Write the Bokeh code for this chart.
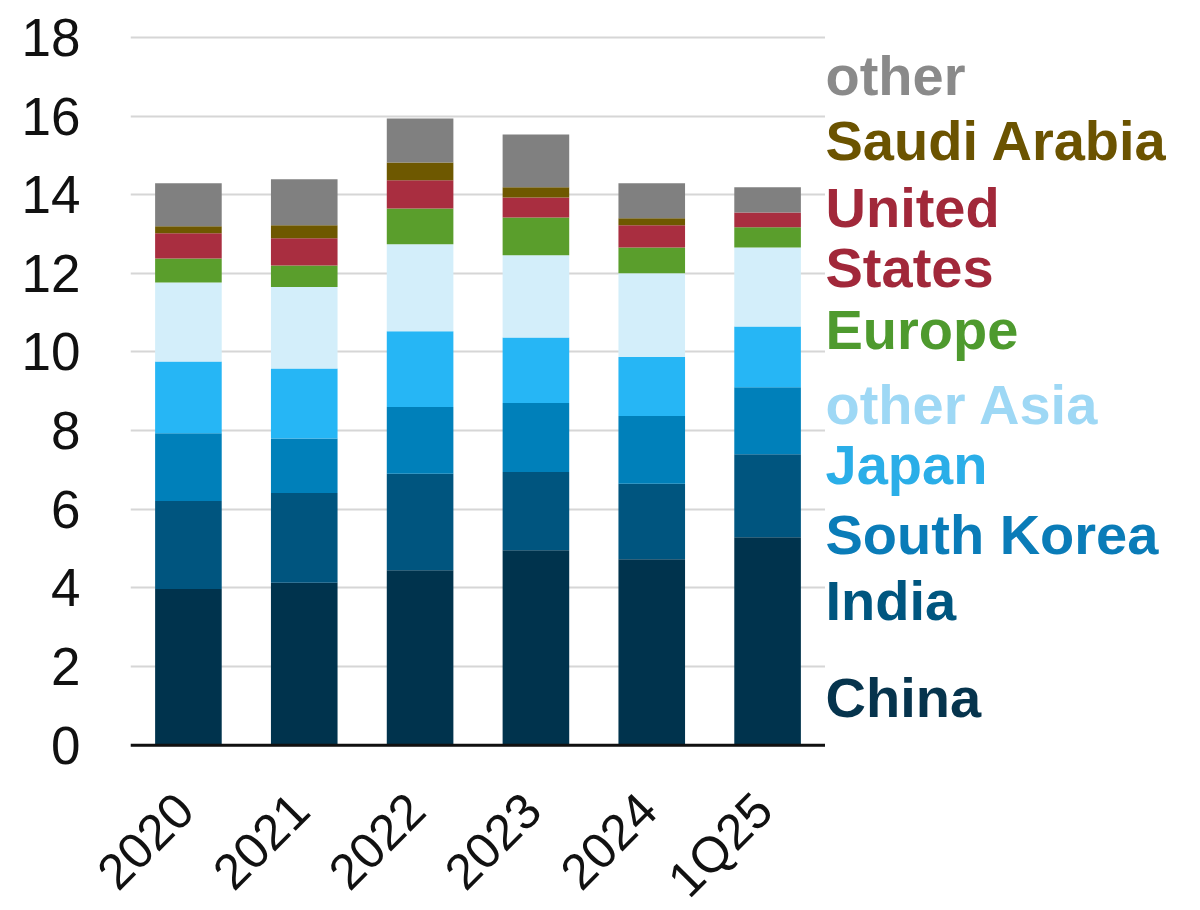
from bokeh.plotting import figure
from bokeh.models import FixedTicker, Range1d, Span
from bokeh.layouts import row, column
from bokeh.core.properties import value
from bokeh.embed import file_html
from bokeh.resources import INLINE
import math

periods = ["2020", "2021", "2022", "2023", "2024", "1Q25"]
series = ["China", "India", "South Korea", "Japan", "other Asia",
          "Europe", "United States", "Saudi Arabia", "other"]

china = [3.97, 4.13, 4.45, 4.96, 4.73, 5.29]
india = [2.24, 2.28, 2.45, 1.99, 1.92, 2.11]
south_korea = [1.72, 1.39, 1.70, 1.75, 1.72, 1.70]
japan = [1.83, 1.78, 1.93, 1.67, 1.50, 1.55]
other_asia = [2.01, 2.07, 2.21, 2.09, 2.13, 2.01]
europe = [0.61, 0.55, 0.91, 0.96, 0.66, 0.51]
united_states = [0.64, 0.69, 0.72, 0.51, 0.56, 0.38]
saudi_arabia = [0.18, 0.33, 0.45, 0.26, 0.18, 0.00]
other = [1.09, 1.17, 1.12, 1.34, 0.89, 0.64]

y_ticks = [0, 2, 4, 6, 8, 10, 12, 14, 16, 18]

fill_colors = ["#00334D", "#00557F", "#0080BA", "#26B6F5", "#D3EEFA",
               "#5A9E2C", "#A92E40", "#6E5800", "#808080"]
label_colors = ["#06344D", "#00567F", "#0A7CB8", "#2AAEE8", "#9ED8F5",
                "#4E9A2E", "#A1283A", "#6B5300", "#8A8A8A"]

data = {"period": periods, "China": china, "India": india,
        "South Korea": south_korea, "Japan": japan, "other Asia": other_asia,
        "Europe": europe, "United States": united_states,
        "Saudi Arabia": saudi_arabia, "other": other}

FONT = "Liberation Sans"
LEFT, FRAME_W, TOP = 130, 695, 33
MAIN_H = 778
BOTTOM = 31
BOT_H = 910 - MAIN_H

yr = Range1d(-0.06, 18.1)

p = figure(x_range=periods, y_range=yr, width=LEFT + FRAME_W, height=MAIN_H,
           output_backend="svg", toolbar_location=None,
           x_axis_location=None,
           min_border_left=LEFT, min_border_right=0,
           min_border_top=TOP, min_border_bottom=BOTTOM)

p.vbar_stack(series, x="period", width=0.575, color=fill_colors,
             line_color=None, source=data)

p.outline_line_color = None
for g in p.grid:
    if g.dimension == 0:
        g.visible = False
    else:
        g.grid_line_color = "#D6D6D6"
        g.grid_line_width = 2
p.yaxis.ticker = FixedTicker(ticks=y_ticks)

p.yaxis.axis_line_color = None
p.yaxis.major_tick_line_color = None
p.yaxis.minor_tick_line_color = None
p.yaxis.major_label_text_font = FONT
p.yaxis.major_label_text_font_size = "53px"
p.yaxis.major_label_text_color = "#111111"
p.yaxis.major_label_standoff = 44

# baseline at zero
p.add_layout(Span(location=0, dimension="width", line_color="#111111",
                  line_width=3))

# right-hand series labels, sharing the y scale
label_texts = ["China", "India", "South Korea", "Japan", "other Asia",
               "Europe", "States", "Saudi Arabia", "other", "United"]
label_y = [1.22, 3.69, 5.37, 7.15, 8.67, 10.58, 12.16, 15.39, 17.04, 13.68]
label_col = label_colors + [label_colors[6]]

pr = figure(x_range=Range1d(0, 1), y_range=yr, width=1184 - LEFT - FRAME_W,
            height=MAIN_H, output_backend="svg", toolbar_location=None,
            x_axis_location=None, y_axis_location=None,
            min_border_left=0, min_border_right=0,
            min_border_top=TOP, min_border_bottom=BOTTOM)
pr.outline_line_color = None
pr.grid.visible = False
pr.text(x=[0] * len(label_texts), y=label_y, text=label_texts,
        text_color=label_col, text_font=value(FONT), text_font_style="bold",
        text_font_size="56px", text_baseline="middle", text_align="left")

# rotated category labels below the axis
unit = FRAME_W / len(periods)
pb = figure(x_range=Range1d(-LEFT / unit, len(periods)),
            y_range=Range1d(0, BOT_H),
            width=LEFT + FRAME_W, height=BOT_H, output_backend="svg",
            toolbar_location=None, x_axis_location=None, y_axis_location=None,
            min_border=0)
pb.outline_line_color = None
pb.grid.visible = False
pb.text(x=[i + 0.5 for i in range(len(periods))], y=[BOT_H - 23] * len(periods),
        text=periods, angle=math.pi / 4, text_align="right",
        text_baseline="middle", text_font=value(FONT), text_font_size="50px",
        text_color="#111111", x_offset=-4)

layout = column(row(p, pr), pb)
open("out.html", "w").write(file_html(layout, INLINE))
